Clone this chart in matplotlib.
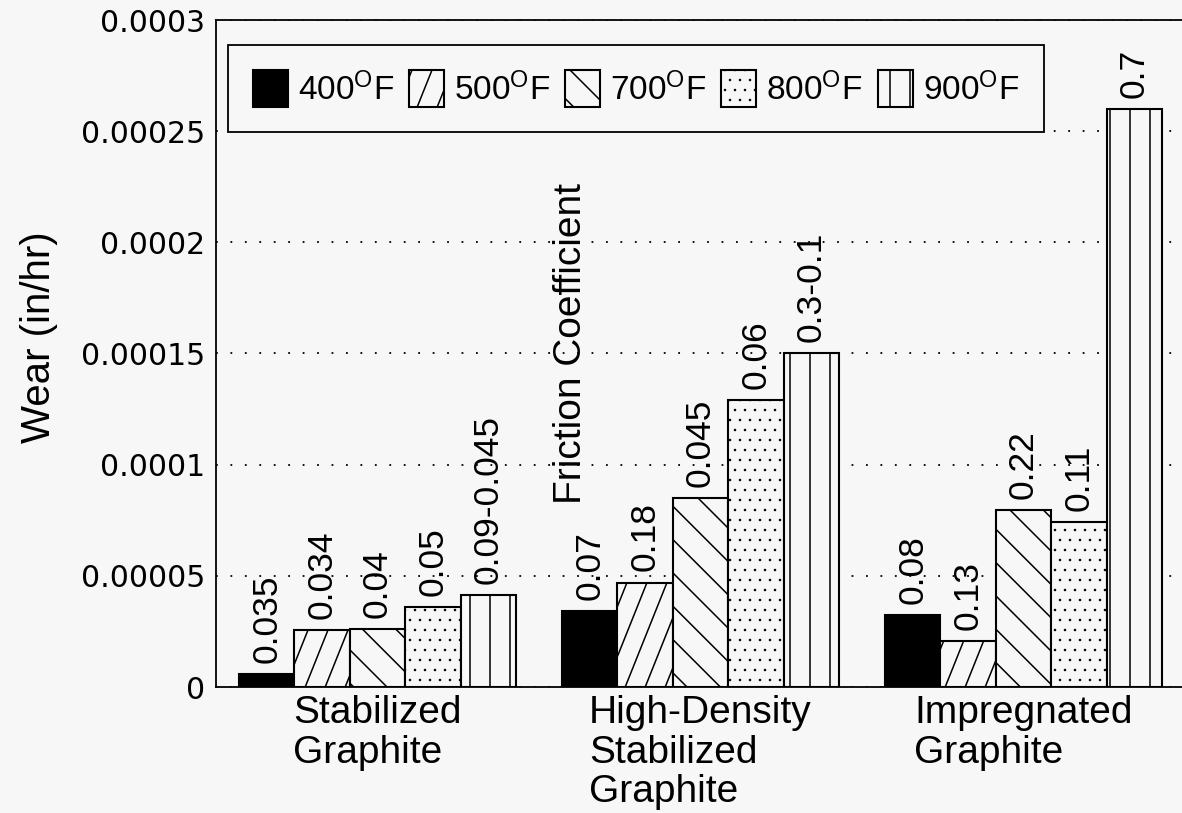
import numpy as np
import matplotlib
matplotlib.use('Agg')
import matplotlib.pyplot as plt
import matplotlib.hatch as mhatch
from matplotlib.path import Path

# ---------------- data ----------------
categories = ['Stabilized\nGraphite', 'High-Density\nStabilized\nGraphite', 'Impregnated\nGraphite']
series_names = ['400$^{\\mathrm{O}}$F', '500$^{\\mathrm{O}}$F', '700$^{\\mathrm{O}}$F',
                '800$^{\\mathrm{O}}$F', '900$^{\\mathrm{O}}$F']
wear_400 = [0.000006, 0.0000342, 0.0000325]
wear_500 = [0.0000257, 0.000047, 0.0000205]
wear_700 = [0.000026, 0.000085, 0.0000797]
wear_800 = [0.000036, 0.000129, 0.000074]
wear_900 = [0.0000415, 0.00015, 0.00026]
friction_400 = ['0.035', '0.07', '0.08']
friction_500 = ['0.034', '0.18', '0.13']
friction_700 = ['0.04', '0.045', '0.22']
friction_800 = ['0.05', '0.06', '0.11']
friction_900 = ['0.09-0.045', '0.3-0.1', '0.7']
ytick_values = [0, 0.00005, 0.0001, 0.00015, 0.0002, 0.00025, 0.0003]
ytick_labels = ['0', '0.00005', '0.0001', '0.00015', '0.0002', '0.00025', '0.0003']
ylabel = 'Wear (in/hr)'
annotation = 'Friction Coefficient'

# ---------------- custom hatches ----------------
class SteepNorthEastHatch(mhatch.HatchPatternBase):
    def __init__(self, hatch, density):
        n = hatch.count('/') + hatch.count('x') + hatch.count('X')
        self.num_lines = 5 * n
        self.shift = 2
        self.num_vertices = (self.num_lines + self.shift) * 2 if self.num_lines else 0

    def set_vertices_and_codes(self, vertices, codes):
        step = 1.0 / self.num_lines
        starts = np.arange(-self.shift, self.num_lines) * step
        vertices[0::2, 0] = starts
        vertices[0::2, 1] = 0.0
        vertices[1::2, 0] = starts + self.shift * step
        vertices[1::2, 1] = 1.0
        codes[0::2] = Path.MOVETO
        codes[1::2] = Path.LINETO


class SparseVerticalHatch(mhatch.VerticalHatch):
    def __init__(self, hatch, density):
        self.num_lines = int((hatch.count('|') + hatch.count('+')) * 5)
        self.num_vertices = self.num_lines * 2


class DotHatch(mhatch.HatchPatternBase):
    rows_per_tile = 10
    radius = 0.05

    def __init__(self, hatch, density):
        self.n = hatch.count('.') * self.rows_per_tile
        circ = Path.unit_circle()
        self.cv = circ.vertices
        self.cc = circ.codes
        if self.n == 0:
            self.num_vertices = 0
        else:
            self.centers = []
            off = 1.0 / self.n
            for r in range(self.n + 1):
                if r % 2 == 0:
                    cols = np.linspace(0, 1, self.n + 1)
                else:
                    cols = np.linspace(off / 2, 1 - off / 2, self.n)
                for c in cols:
                    self.centers.append((c, r * off))
            self.num_vertices = len(self.centers) * len(self.cv)

    def set_vertices_and_codes(self, vertices, codes):
        off = 1.0 / self.n
        shape = self.cv * off * self.radius
        k = len(self.cv)
        for i, (cx, cy) in enumerate(self.centers):
            vertices[i * k:(i + 1) * k] = shape + [cx, cy]
            codes[i * k:(i + 1) * k] = self.cc


_repl = {mhatch.NorthEastHatch: SteepNorthEastHatch,
         mhatch.VerticalHatch: SparseVerticalHatch,
         mhatch.SmallFilledCircles: DotHatch}
mhatch._hatch_types = [_repl.get(t, t) for t in mhatch._hatch_types]

# ---------------- style ----------------
plt.rcParams['font.family'] = ['Liberation Sans', 'DejaVu Sans']
plt.rcParams['mathtext.fontset'] = 'custom'
plt.rcParams['mathtext.rm'] = 'Liberation Sans'
plt.rcParams['mathtext.it'] = 'Liberation Sans:italic'
plt.rcParams['hatch.linewidth'] = 1.1
plt.rcParams['hatch.color'] = 'black'

BG = '#f7f7f7'
W, H = 1182, 813
fig = plt.figure(figsize=(W / 100, H / 100), dpi=100, facecolor=BG)
ax = fig.add_axes([216 / W, (H - 687) / H, 969 / W, 667 / H])
ax.set_facecolor(BG)

series = [wear_400, wear_500, wear_700, wear_800, wear_900]
frictions = [friction_400, friction_500, friction_700, friction_800, friction_900]
facecolors = ['black', BG, BG, BG, BG]
hatches = [None, '/', '\\', '.', '|']

x = np.arange(len(categories))
n = len(series)
bw = 0.1715
containers = []
for i, (vals, fc, h, lab, fr) in enumerate(zip(series, facecolors, hatches, series_names, frictions)):
    off = (i - (n - 1) / 2) * bw
    bc = ax.bar(x + off, vals, width=bw, facecolor=fc, edgecolor='black',
                hatch=h, linewidth=1.5, label=lab, zorder=2)
    containers.append(bc)
    ax.bar_label(bc, labels=fr, rotation=90, padding=8, fontsize=25.5,
                 family='Liberation Sans')

ax.text(0.60, 0.0000822, annotation, rotation=90, ha='center', va='bottom',
        fontsize=28, family='Liberation Sans')

ax.set_xlim(-0.5, 2.5)
ax.set_ylim(0, 0.0003)
ax.set_yticks(ytick_values)
ax.set_yticklabels(ytick_labels, family='DejaVu Sans', fontsize=21.5)
ax.set_xticks(x)
ax.set_xticklabels(categories, fontsize=28, linespacing=1.12)
for lbl in ax.get_xticklabels():
    lbl.set_multialignment('left')
ax.tick_params(axis='x', length=0, pad=6)
ax.tick_params(axis='y', length=0, pad=8)

ax.yaxis.grid(True, linestyle=(0, (1, 7)), color='black', linewidth=1.3)
ax.set_axisbelow(True)

for s in ['left', 'bottom', 'top', 'right']:
    ax.spines[s].set_linewidth(1.3)
    ax.spines[s].set_color('black')

ax.set_ylabel(ylabel, fontsize=29)
ax.yaxis.set_label_coords(-0.163, 0.525)

leg = ax.legend(handles=containers, loc='upper left', ncol=5,
                bbox_to_anchor=(228 / W, 1 - 45 / H), bbox_transform=fig.transFigure,
                borderaxespad=0, fontsize=24, handlelength=1.05, handleheight=1.35,
                handletextpad=0.3, columnspacing=0.45, borderpad=0.75,
                fancybox=False, frameon=True, facecolor=BG, edgecolor='black',
                framealpha=1)
leg.get_frame().set_linewidth(1.3)
leg.set_zorder(5)

fig.savefig('out.png', dpi=100, facecolor=BG)
